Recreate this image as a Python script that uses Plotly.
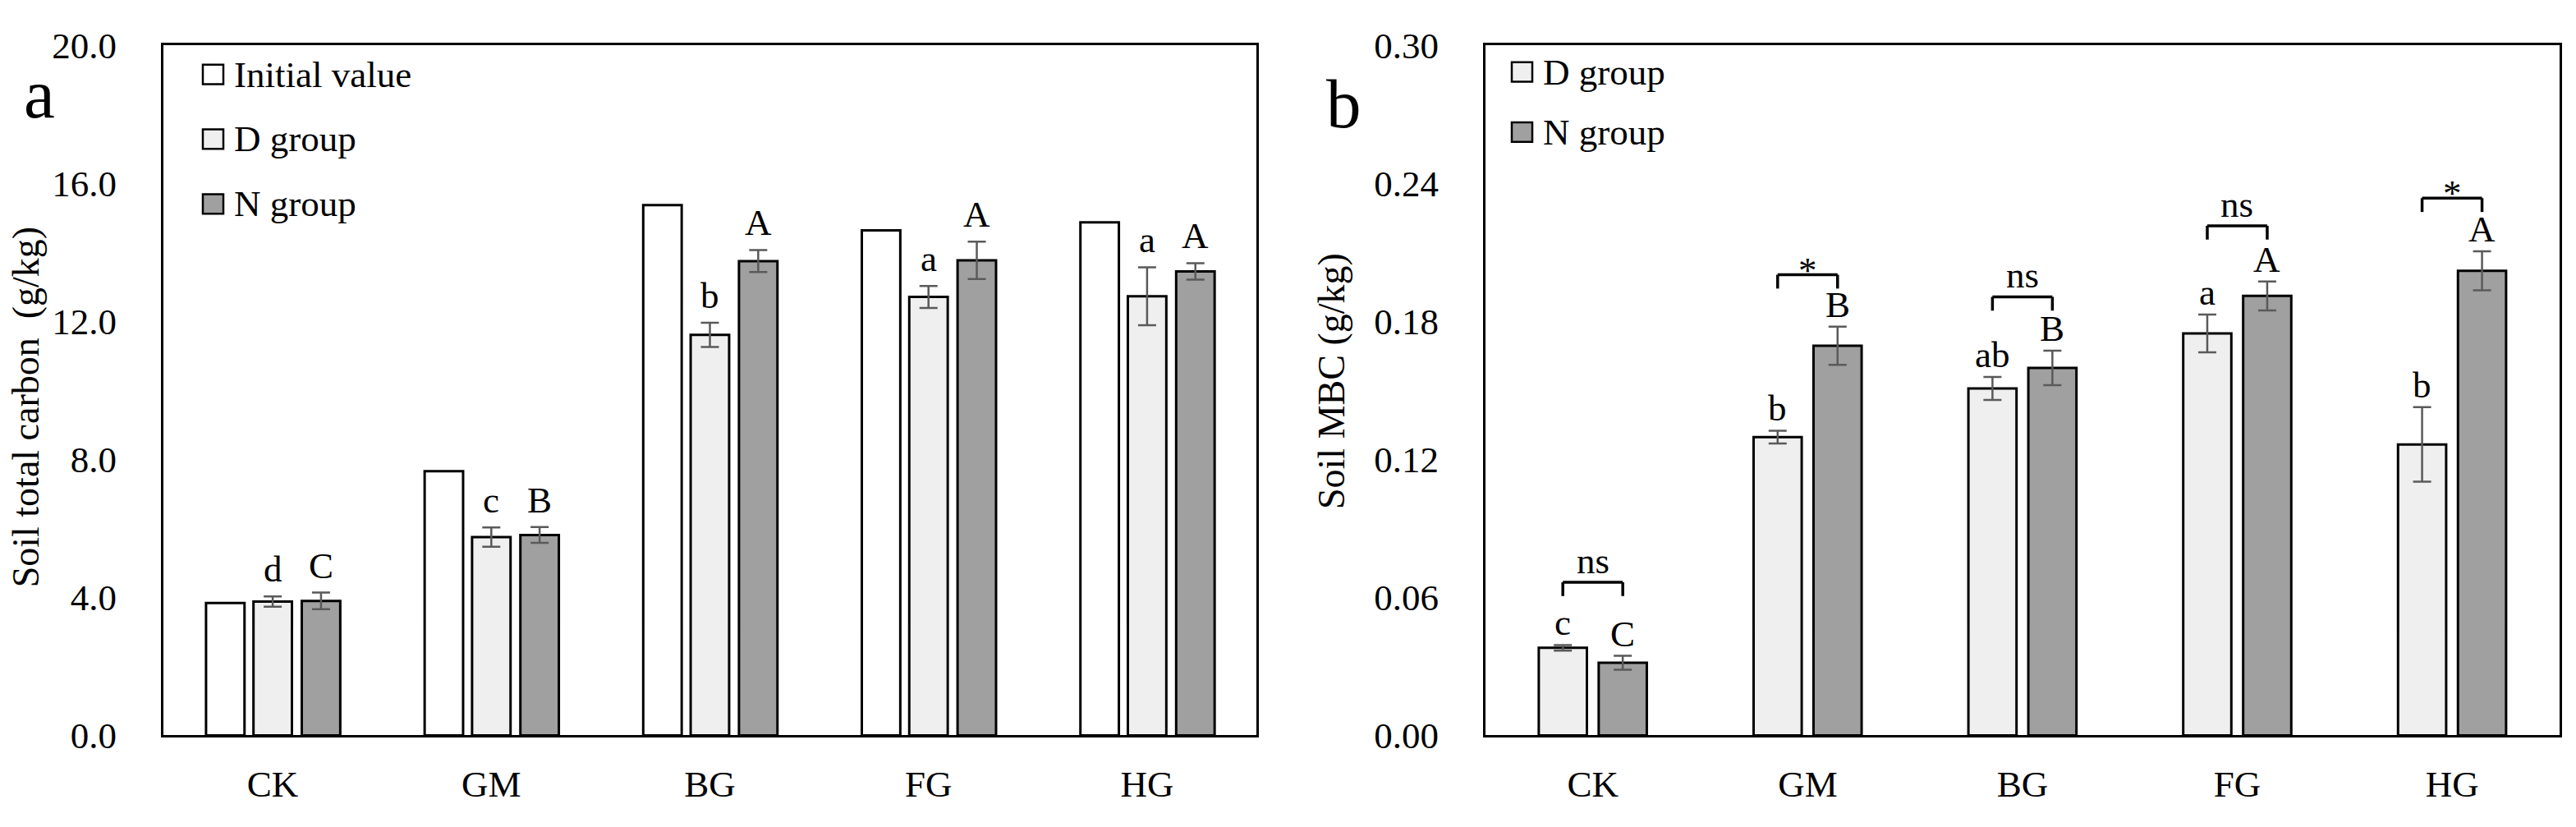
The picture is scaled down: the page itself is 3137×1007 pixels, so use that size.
import plotly.graph_objects as go

# ---------------- data ----------------
categories = ["CK", "GM", "BG", "FG", "HG"]

# panel a : soil total carbon (g/kg)
tc_initial = [3.84, 7.66, 15.37, 14.64, 14.87]
tc_d = [3.88, 5.75, 11.61, 12.71, 12.73]
tc_d_err = [0.15, 0.28, 0.35, 0.32, 0.84]
tc_n = [3.90, 5.81, 13.75, 13.77, 13.45]
tc_n_err = [0.24, 0.23, 0.32, 0.54, 0.24]
tc_d_letters = ["d", "c", "b", "a", "a"]
tc_n_letters = ["C", "B", "A", "A", "A"]

# panel b : soil MBC (g/kg)
mbc_d = [0.0381, 0.1297, 0.1509, 0.1748, 0.1265]
mbc_d_err = [0.0012, 0.0028, 0.0050, 0.0082, 0.0162]
mbc_n = [0.0316, 0.1694, 0.1598, 0.1911, 0.2020]
mbc_n_err = [0.0030, 0.0083, 0.0075, 0.0063, 0.0085]
mbc_d_letters = ["c", "b", "ab", "a", "b"]
mbc_n_letters = ["C", "B", "B", "A", "A"]
sig_labels = ["ns", "*", "ns", "ns", "*"]
bracket_top = [0.0666, 0.2003, 0.1907, 0.2216, 0.2336]

tc_ticks = [0, 4, 8, 12, 16, 20]
mbc_ticks = [0, 0.06, 0.12, 0.18, 0.24, 0.30]

# ---------------- style ----------------
W, H = 3137, 1007
SERIF = "Liberation Serif, Times New Roman, serif"
C_INIT, C_D, C_N = "#ffffff", "#efefef", "#a0a0a0"
ERR_C = "#5a5a5a"
TICK_SIZE = 45


def px(x):
    return x / W


def py(y):
    return 1 - y / H


BW_A = 0.176
OFF_A = {"init": -0.305, "d": -0.088, "n": 0.133}
BW_B = 0.224
OFF_B = {"d": -0.252, "n": 0.027}

fig = go.Figure()


def bar(x, y, err, name, color, offset, width, xa, ya):
    kw = dict(
        x=x, y=y, name=name, offset=offset, width=width,
        marker=dict(color=color, line=dict(color="black", width=3)),
        xaxis=xa, yaxis=ya, showlegend=False,
    )
    if err is not None:
        kw["error_y"] = dict(type="data", array=err, color=ERR_C,
                             thickness=2.5, width=11)
    return go.Bar(**kw)


fig.add_trace(bar(categories, tc_initial, None, "Initial value", C_INIT,
                  OFF_A["init"], BW_A, "x", "y"))
fig.add_trace(bar(categories, tc_d, tc_d_err, "D group", C_D,
                  OFF_A["d"], BW_A, "x", "y"))
fig.add_trace(bar(categories, tc_n, tc_n_err, "N group", C_N,
                  OFF_A["n"], BW_A, "x", "y"))
fig.add_trace(bar(categories, mbc_d, mbc_d_err, "D group", C_D,
                  OFF_B["d"], BW_B, "x2", "y2"))
fig.add_trace(bar(categories, mbc_n, mbc_n_err, "N group", C_N,
                  OFF_B["n"], BW_B, "x2", "y2"))

annotations = []
shapes = []

# letters panel a
for i in range(len(categories)):
    annotations.append(dict(
        x=i + OFF_A["d"] + BW_A / 2, y=tc_d[i] + tc_d_err[i], xref="x", yref="y",
        text=tc_d_letters[i], showarrow=False, yanchor="middle", yshift=33,
        font=dict(family=SERIF, size=TICK_SIZE, color="black")))
    annotations.append(dict(
        x=i + OFF_A["n"] + BW_A / 2, y=tc_n[i] + tc_n_err[i], xref="x", yref="y",
        text=tc_n_letters[i], showarrow=False, yanchor="middle", yshift=33,
        font=dict(family=SERIF, size=TICK_SIZE, color="black")))

# letters + brackets panel b
LEG = 0.006
for i in range(len(categories)):
    xd = i + OFF_B["d"] + BW_B / 2
    xn = i + OFF_B["n"] + BW_B / 2
    annotations.append(dict(
        x=xd, y=mbc_d[i] + mbc_d_err[i], xref="x2", yref="y2",
        text=mbc_d_letters[i], showarrow=False, yanchor="middle", yshift=27,
        font=dict(family=SERIF, size=TICK_SIZE, color="black")))
    annotations.append(dict(
        x=xn, y=mbc_n[i] + mbc_n_err[i], xref="x2", yref="y2",
        text=mbc_n_letters[i], showarrow=False, yanchor="middle", yshift=27,
        font=dict(family=SERIF, size=TICK_SIZE, color="black")))
    bt = bracket_top[i]
    line = dict(color="black", width=3.5)
    shapes.append(dict(type="line", xref="x2", yref="y2", x0=xd, x1=xn,
                       y0=bt, y1=bt, line=line))
    shapes.append(dict(type="line", xref="x2", yref="y2", x0=xd, x1=xd,
                       y0=bt - LEG, y1=bt, line=line))
    shapes.append(dict(type="line", xref="x2", yref="y2", x0=xn, x1=xn,
                       y0=bt - LEG, y1=bt, line=line))
    star = sig_labels[i] == "*"
    annotations.append(dict(
        x=i + (OFF_B["d"] + OFF_B["n"]) / 2 + BW_B / 2, y=bt, xref="x2", yref="y2",
        text=sig_labels[i], showarrow=False, yanchor="middle",
        yshift=6 if star else 26,
        font=dict(family=SERIF, size=TICK_SIZE, color="black")))


# manual legends
def legend_item(x0, yc, color, label):
    shapes.append(dict(type="rect", xref="paper", yref="paper",
                       x0=px(x0), x1=px(x0 + 25), y0=py(yc + 12.5), y1=py(yc - 12.5),
                       fillcolor=color, line=dict(color="black", width=2.5)))
    annotations.append(dict(x=px(x0 + 36), y=py(yc), xref="paper", yref="paper",
                            text=label, showarrow=False, xanchor="left",
                            yanchor="middle",
                            font=dict(family=SERIF, size=TICK_SIZE, color="black")))


legend_item(247, 70, C_INIT, "Initial value")
legend_item(247, 153, C_D, "D group")
legend_item(247, 236, C_N, "N group")
legend_item(1841, 67, C_D, "D group")
legend_item(1841, 144, C_N, "N group")

# axis titles and panel letters
annotations.append(dict(x=px(31), y=py(497), xref="paper", yref="paper",
                        text="Soil total carbon\u00a0 (g/kg)", textangle=-90,
                        showarrow=False, xanchor="center", yanchor="middle",
                        font=dict(family=SERIF, size=46, color="black")))
annotations.append(dict(x=px(1621), y=py(463), xref="paper", yref="paper",
                        text="Soil MBC (g/kg)", textangle=-90,
                        showarrow=False, xanchor="center", yanchor="middle",
                        font=dict(family=SERIF, size=46, color="black")))
annotations.append(dict(x=px(48), y=py(95), xref="paper", yref="paper",
                        text="a", showarrow=False, xanchor="center", yanchor="middle",
                        font=dict(family=SERIF, size=85, color="black")))
annotations.append(dict(x=px(1637), y=py(107), xref="paper", yref="paper",
                        text="b", showarrow=False, xanchor="center", yanchor="middle",
                        font=dict(family=SERIF, size=85, color="black")))

axis_common = dict(showline=True, mirror=True, linecolor="black", linewidth=3,
                   showgrid=False, zeroline=False, ticks="",
                   tickfont=dict(family=SERIF, size=TICK_SIZE, color="black"))

fig.update_layout(
    width=W, height=H,
    margin=dict(l=0, r=0, t=0, b=0),
    paper_bgcolor="white", plot_bgcolor="white",
    barmode="overlay",
    showlegend=False,
    xaxis=dict(domain=[px(199), px(1530)], anchor="y", type="category",
               categoryorder="array", categoryarray=categories,
               range=[-0.5, len(categories) - 0.5], ticklabelstandoff=18,
               **axis_common),
    yaxis=dict(domain=[py(917), py(33)], anchor="x", range=[0, 20],
               tickvals=tc_ticks, tickformat=".1f", ticklabelstandoff=45,
               **axis_common),
    xaxis2=dict(domain=[px(1809), px(3117)], anchor="y2", type="category",
                categoryorder="array", categoryarray=categories,
                range=[-0.5, len(categories) - 0.5], ticklabelstandoff=18,
                **axis_common),
    yaxis2=dict(domain=[py(917), py(33)], anchor="x2", range=[0, 0.30],
                tickvals=mbc_ticks, tickformat=".2f", ticklabelstandoff=45,
                **axis_common),
    annotations=annotations,
    shapes=shapes,
)

fig.write_html("out.html", config={"displayModeBar": False},
               post_script="document.body.style.margin='0';document.body.style.overflow='hidden';")
